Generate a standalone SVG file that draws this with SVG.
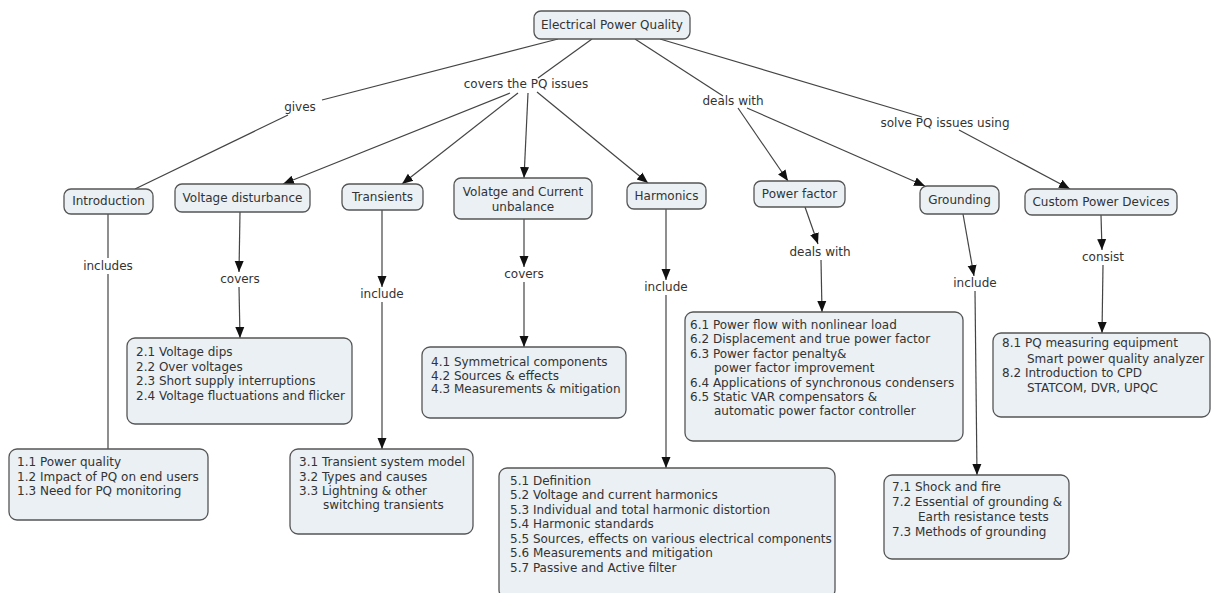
<svg xmlns="http://www.w3.org/2000/svg" width="1212" height="593" viewBox="0 0 1212 593">
<style>
.n{fill:#eaf0f3;stroke:#555;stroke-width:1.3}
.t{font-family:"DejaVu Sans",Verdana,sans-serif;font-size:12px;fill:#333}
.c{text-anchor:middle}
.l{fill:none;stroke:#444;stroke-width:1.2}
.a{marker-end:url(#ah)}
</style>
<defs>
<marker id="ah" markerUnits="userSpaceOnUse" markerWidth="12" markerHeight="12" viewBox="0 0 12 12" refX="11" refY="6" orient="auto">
<path d="M0,1.5 L11,6 L0,10.5 Z" fill="#111"/>
</marker>
</defs>
<rect width="1212" height="593" fill="#fff"/>
<g id="connectors">
<path class="l" d="M558,39 L322,100"/>
<path class="l" d="M288,115 L135,189"/>
<path class="l" d="M592,39 L538,78"/>
<path class="l a" d="M510,93 L283,184"/>
<path class="l a" d="M518,93 L402,184"/>
<path class="l a" d="M528,93 L524,178"/>
<path class="l a" d="M537,92 L648,183"/>
<path class="l" d="M635,39 L723,96"/>
<path class="l a" d="M738,108 L788,181"/>
<path class="l a" d="M747,108 L925,186"/>
<path class="l" d="M660,39 L922,117"/>
<path class="l a" d="M959,130 L1070,189"/>
<path class="l" d="M108,214 L108,258"/>
<path class="l" d="M108,274 L108,449"/>
<path class="l a" d="M240,212 L239,272"/>
<path class="l a" d="M239,287 L240,338"/>
<path class="l a" d="M382,210 L382,287"/>
<path class="l a" d="M382,302 L382,449"/>
<path class="l a" d="M524,219 L524,267"/>
<path class="l a" d="M524,282 L524,347"/>
<path class="l a" d="M666,209 L666,280"/>
<path class="l a" d="M666,295 L666,468"/>
<path class="l a" d="M805,207 L818,244"/>
<path class="l a" d="M821,260 L822,312"/>
<path class="l a" d="M963,214 L974,276"/>
<path class="l a" d="M975,291 L977,475"/>
<path class="l a" d="M1101,215 L1102,250"/>
<path class="l a" d="M1103,265 L1102,333"/>
</g>
<g id="link-labels">
<text class="t c" x="300" y="111">gives</text>
<text class="t c" x="526" y="88">covers the PQ issues</text>
<text class="t c" x="733" y="105">deals with</text>
<text class="t c" x="945" y="127">solve PQ issues using</text>
<text class="t c" x="108" y="270">includes</text>
<text class="t c" x="240" y="283">covers</text>
<text class="t c" x="382" y="298">include</text>
<text class="t c" x="524" y="278">covers</text>
<text class="t c" x="666" y="291">include</text>
<text class="t c" x="820" y="256">deals with</text>
<text class="t c" x="975" y="287">include</text>
<text class="t c" x="1103" y="261">consist</text>
</g>
<g id="root">
<rect class="n" x="534" y="11" width="156" height="28" rx="7"/>
<text class="t c" x="612" y="29">Electrical Power Quality</text>
</g>
<g id="introduction">
<rect class="n" x="64" y="189" width="89" height="25" rx="7"/>
<text class="t c" x="108.5" y="205">Introduction</text>
</g>
<g id="voltage-disturbance">
<rect class="n" x="175" y="184" width="135" height="28" rx="7"/>
<text class="t c" x="242.5" y="202">Voltage disturbance</text>
</g>
<g id="transients">
<rect class="n" x="342" y="184" width="81" height="26" rx="7"/>
<text class="t c" x="382.5" y="201">Transients</text>
</g>
<g id="unbalance">
<rect class="n" x="454" y="178" width="138" height="41" rx="7"/>
<text class="t c" x="523" y="196">Volatge and Current</text>
<text class="t c" x="523" y="211">unbalance</text>
</g>
<g id="harmonics">
<rect class="n" x="627" y="183" width="79" height="26" rx="7"/>
<text class="t c" x="666.5" y="200">Harmonics</text>
</g>
<g id="power-factor">
<rect class="n" x="754" y="181" width="91" height="26" rx="7"/>
<text class="t c" x="799.5" y="198">Power factor</text>
</g>
<g id="grounding">
<rect class="n" x="920" y="186" width="79" height="28" rx="7"/>
<text class="t c" x="959.5" y="204">Grounding</text>
</g>
<g id="custom-power-devices">
<rect class="n" x="1025" y="189" width="152" height="26" rx="7"/>
<text class="t c" x="1101" y="206">Custom Power Devices</text>
</g>
<g id="box1">
<rect class="n" x="9" y="449" width="199" height="71" rx="8"/>
<text class="t" x="17" y="466">1.1 Power quality</text>
<text class="t" x="17" y="481">1.2 Impact of PQ on end users</text>
<text class="t" x="17" y="495">1.3 Need for PQ monitoring</text>
</g>
<g id="box2">
<rect class="n" x="127" y="338" width="225" height="86" rx="8"/>
<text class="t" x="136" y="356">2.1 Voltage dips</text>
<text class="t" x="136" y="371">2.2 Over voltages</text>
<text class="t" x="136" y="385">2.3 Short supply interruptions</text>
<text class="t" x="136" y="400">2.4 Voltage fluctuations and flicker</text>
</g>
<g id="box3">
<rect class="n" x="290" y="449" width="183" height="85" rx="8"/>
<text class="t" x="299" y="466">3.1 Transient system model</text>
<text class="t" x="299" y="481">3.2 Types and causes</text>
<text class="t" x="299" y="495">3.3 Lightning &amp; other</text>
<text class="t" x="323" y="509">switching transients</text>
</g>
<g id="box4">
<rect class="n" x="422" y="347" width="204" height="71" rx="8"/>
<text class="t" x="431" y="366">4.1 Symmetrical components</text>
<text class="t" x="431" y="379.5">4.2 Sources &amp; effects</text>
<text class="t" x="431" y="393">4.3 Measurements &amp; mitigation</text>
</g>
<g id="box5">
<rect class="n" x="499" y="468" width="336" height="130" rx="8"/>
<text class="t" x="510" y="485">5.1 Definition</text>
<text class="t" x="510" y="499">5.2 Voltage and current harmonics</text>
<text class="t" x="510" y="514">5.3 Individual and total harmonic distortion</text>
<text class="t" x="510" y="528">5.4 Harmonic standards</text>
<text class="t" x="510" y="543">5.5 Sources, effects on various electrical components</text>
<text class="t" x="510" y="557">5.6 Measurements and mitigation</text>
<text class="t" x="510" y="572">5.7 Passive and Active filter</text>
</g>
<g id="box6">
<rect class="n" x="685" y="312" width="278" height="129" rx="8"/>
<text class="t" x="690" y="329">6.1 Power flow with nonlinear load</text>
<text class="t" x="690" y="343">6.2 Displacement and true power factor</text>
<text class="t" x="690" y="358">6.3 Power factor penalty&amp;</text>
<text class="t" x="714" y="372">power factor improvement</text>
<text class="t" x="690" y="387">6.4 Applications of synchronous condensers</text>
<text class="t" x="690" y="401">6.5 Static VAR compensators &amp;</text>
<text class="t" x="714" y="415">automatic power factor controller</text>
</g>
<g id="box7">
<rect class="n" x="884" y="475" width="185" height="84" rx="8"/>
<text class="t" x="892" y="491">7.1 Shock and fire</text>
<text class="t" x="892" y="506">7.2 Essential of grounding &amp;</text>
<text class="t" x="918" y="521">Earth resistance tests</text>
<text class="t" x="892" y="536">7.3 Methods of grounding</text>
</g>
<g id="box8">
<rect class="n" x="993" y="333" width="217" height="84" rx="8"/>
<text class="t" x="1002" y="347">8.1 PQ measuring equipment</text>
<text class="t" x="1027" y="363">Smart power quality analyzer</text>
<text class="t" x="1002" y="377">8.2 Introduction to CPD</text>
<text class="t" x="1027" y="392">STATCOM, DVR, UPQC</text>
</g>
</svg>
